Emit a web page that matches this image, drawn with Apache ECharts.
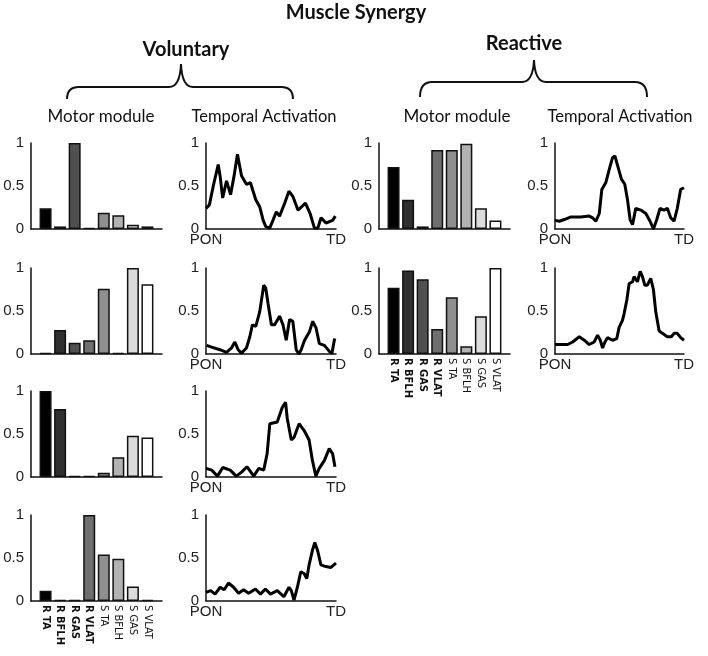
<!DOCTYPE html>
<html><head><meta charset="utf-8">
<script src="https://cdn.jsdelivr.net/npm/echarts/dist/echarts.min.js"></script>
<style>html,body{margin:0;padding:0;background:#fff}#c{width:708px;height:656px}</style>
</head><body><div id="c"></div>
<script>
// ---- data ----
const muscles = ['R TA','R BFLH','R GAS','R VLAT','S TA','S BFLH','S GAS','S VLAT'];
const volModule1 = [0.24,0.03,1.00,0.01,0.19,0.16,0.05,0.03];
const volModule2 = [0.01,0.28,0.13,0.16,0.76,0.01,1.00,0.81];
const volModule3 = [1.00,0.79,0.01,0.01,0.05,0.23,0.48,0.46];
const volModule4 = [0.12,0.01,0.01,1.00,0.54,0.49,0.17,0.01];
const reaModule1 = [0.72,0.34,0.03,0.92,0.92,0.99,0.24,0.10];
const reaModule2 = [0.77,0.97,0.87,0.29,0.66,0.09,0.44,1.00];

const volAct1 = [[0,0.24],[2.6,0.28],[5.6,0.5],[9.4,0.75],[11,0.6],[12.8,0.36],[15.8,0.56],[18.9,0.4],[21.4,0.6],[24.2,0.87],[27.3,0.62],[31.1,0.52],[34.2,0.54],[36,0.45],[38.3,0.34],[41.3,0.26],[44,0.1],[45.9,0.03],[49,0.01],[51.5,0.1],[54.1,0.2],[56.6,0.15],[60.5,0.3],[63.8,0.44],[66.8,0.38],[70.7,0.22],[73,0.25],[76.5,0.3],[80.1,0.18],[83.4,0.01],[86,0.01],[88.5,0.13],[92.3,0.07],[97.4,0.1],[99.5,0.15]];
const volAct2 = [[0.5,0.1],[4.3,0.08],[10.7,0.05],[15.8,0.02],[19.6,0.07],[22.2,0.14],[24.7,0.05],[27.3,0.01],[31.1,0.07],[33.7,0.2],[35.7,0.34],[38.3,0.32],[41.3,0.49],[44.4,0.8],[45.9,0.77],[47.7,0.59],[50.3,0.34],[52.8,0.34],[56.6,0.44],[59.2,0.34],[61.7,0.16],[64.3,0.4],[66.8,0.38],[69.4,0.05],[71.4,0],[73.2,0.05],[75.8,0.16],[79.6,0.26],[82.1,0.38],[84.7,0.3],[87.2,0.12],[91.1,0.1],[94.9,0.03],[96.9,0.01],[98.7,0.16],[99.2,0.18]];
const volAct3 = [[0,0.1],[4.4,0.08],[8.8,0.01],[12.9,0.11],[18.6,0.08],[23.3,0.01],[27.6,0.06],[31.5,0.12],[36.7,0.01],[40.6,0.1],[44.4,0.08],[47,0.27],[49.1,0.62],[54.8,0.64],[58.7,0.81],[61.2,0.87],[62.5,0.68],[65.6,0.43],[67.7,0.46],[71.6,0.62],[75.5,0.54],[79.3,0.43],[81.9,0.19],[84.5,0.01],[87.1,0.1],[91,0.19],[94.8,0.33],[97.4,0.27],[99.2,0.12]];
const volAct4 = [[0,0.1],[3.6,0.12],[7,0.08],[10.9,0.16],[14,0.13],[17.3,0.21],[21.2,0.16],[25.1,0.09],[28.9,0.13],[32.8,0.09],[38,0.14],[41.9,0.08],[45.7,0.14],[49.6,0.08],[54.8,0.12],[59.9,0.05],[63.8,0.16],[65.6,0.12],[67.7,0.01],[70.3,0.16],[72.9,0.34],[75.5,0.32],[77.5,0.26],[79.3,0.42],[81.9,0.59],[83.7,0.68],[85.8,0.59],[88.4,0.42],[92.2,0.4],[96.1,0.39],[100,0.44]];
const reaAct1 = [[0,0.1],[3.4,0.09],[7.2,0.11],[12.4,0.14],[20.1,0.14],[26.5,0.15],[29.1,0.13],[31.7,0.09],[34.3,0.18],[36.3,0.46],[39.4,0.54],[42,0.69],[44.6,0.83],[46.4,0.85],[48.5,0.74],[51.5,0.58],[54.1,0.52],[56.2,0.34],[58.2,0.11],[60.1,0.05],[62.6,0.24],[66.5,0.22],[70.4,0.18],[73.7,0.09],[76.3,0],[78.9,0.11],[81.4,0.24],[84.5,0.22],[87.1,0.24],[89.7,0.13],[92.3,0.09],[94.8,0.24],[97.4,0.46],[100,0.48]];
const reaAct2 = [[0,0.11],[4.6,0.11],[9.8,0.11],[13.7,0.14],[18.8,0.2],[22.7,0.16],[26.5,0.11],[30.4,0.14],[33,0.22],[35.1,0.16],[36.9,0.07],[38.7,0.14],[40.7,0.19],[44.6,0.16],[47.9,0.18],[49.7,0.31],[52.3,0.39],[53.6,0.47],[55.7,0.63],[57.5,0.82],[60.1,0.84],[61.3,0.9],[63.9,0.84],[66,0.96],[67.8,0.9],[69.6,0.8],[71.6,0.8],[74.2,0.88],[76.3,0.75],[78.1,0.49],[80.7,0.27],[83.2,0.24],[87.1,0.2],[90.2,0.2],[92.3,0.24],[94.8,0.24],[97.4,0.19],[100,0.16]];
const yTicks = ['0','0.5','1'];
const xEnds = ['PON','TD'];

// ---- style ----
const barFills = ['#000000','#2f2f2f','#505050','#6f6f6f','#8f8f8f','#b2b2b2','#dcdcdc','#ffffff'];
const labelFont = 'Liberation Sans, Arial, sans-serif';
const narrowFont = 'Liberation Sans Narrow, Arial Narrow, DejaVu Sans Condensed, Liberation Sans, sans-serif';
const headFont = 'Lato, Open Sans, sans-serif';

const chart = echarts.init(document.getElementById('c'), null, {renderer:'canvas'});
const grids = [], xAxes = [], yAxes = [], series = [];
let idx = 0;

function yAxisCfg(i){
  return {gridIndex:i, type:'value', min:0, max:1, interval:0.5,
    axisLine:{show:true, lineStyle:{color:'#111', width:1.5}},
    axisTick:{show:false}, splitLine:{show:false},
    axisLabel:{color:'#222', fontSize:15, fontFamily:labelFont, margin:7,
      formatter:v => v===0?yTicks[0]:(v===1?yTicks[2]:yTicks[1])}};
}

function addBars(left, zeroY, values, showNames){
  const i = idx++;
  grids.push({left:left, top:zeroY-86, width:131, height:86});
  xAxes.push({gridIndex:i, type:'category', boundaryGap:false,
    data:[''].concat(muscles).concat(['']),
    axisLine:{show:true, lineStyle:{color:'#111', width:1.5}},
    axisTick:{show:false}, splitLine:{show:false},
    axisLabel:{show:showNames, interval:0, rotate:-90, margin:4,
      fontSize:11, fontFamily:narrowFont, color:'#111',
      formatter:(v)=> v==='' ? '' : (v.charAt(0)==='R' ? '{b|'+v+'}' : '{n|'+v+'}'),
      rich:{b:{fontWeight:'bold', fontSize:11, fontFamily:narrowFont, color:'#111'},
            n:{fontWeight:'normal', fontSize:11, fontFamily:narrowFont, color:'#111'}}}});
  yAxes.push(yAxisCfg(i));
  series.push({type:'bar', xAxisIndex:i, yAxisIndex:i, barWidth:12, silent:true,
    data:['-'].concat(values.map((v,k)=>({value:v, itemStyle:{color:barFills[k], borderColor:'#111', borderWidth:1.5}}))).concat(['-'])});
}

function addLine(left, width, zeroY, pts){
  const i = idx++;
  grids.push({left:left, top:zeroY-86, width:width, height:86});
  xAxes.push({gridIndex:i, type:'value', min:0, max:100, interval:100,
    axisLine:{show:true, lineStyle:{color:'#111', width:1.5}},
    axisTick:{show:false}, splitLine:{show:false},
    axisLabel:{showMinLabel:true, showMaxLabel:true, margin:3, color:'#222', fontSize:15, fontFamily:labelFont,
      formatter:v => v===0?xEnds[0]:(v===100?xEnds[1]:'')}});
  yAxes.push(yAxisCfg(i));
  series.push({type:'line', xAxisIndex:i, yAxisIndex:i, data:pts, showSymbol:false, silent:true,
    lineStyle:{color:'#000', width:3}});
}

const volZero = [229, 354, 477, 601];
const volMods = [volModule1, volModule2, volModule3, volModule4];
const volActs = [volAct1, volAct2, volAct3, volAct4];
volMods.forEach((m,r)=>{ addBars(31, volZero[r], m, r===3); addLine(206, 130, volZero[r], volActs[r]); });
const reaZero = [229, 354];
[reaModule1, reaModule2].forEach((m,r)=>addBars(379, reaZero[r], m, r===1));
[reaAct1, reaAct2].forEach((a,r)=>addLine(555, 129, reaZero[r], a));

function brace(xl, xc, xr, yh, yc, ye){
  const st = {fill:'none', stroke:'#111', lineWidth:2};
  const r = 12;
  return [
    {type:'bezierCurve', shape:{x1:xl, y1:ye, x2:xl+r, y2:yh, cpx1:xl, cpy1:yh}, style:st},
    {type:'line', shape:{x1:xl+r, y1:yh, x2:xc-r, y2:yh}, style:st},
    {type:'bezierCurve', shape:{x1:xc-r, y1:yh, x2:xc, y2:yc, cpx1:xc-1, cpy1:yh}, style:st},
    {type:'bezierCurve', shape:{x1:xc, y1:yc, x2:xc+r, y2:yh, cpx1:xc+1, cpy1:yh}, style:st},
    {type:'line', shape:{x1:xc+r, y1:yh, x2:xr-r, y2:yh}, style:st},
    {type:'bezierCurve', shape:{x1:xr-r, y1:yh, x2:xr, y2:ye, cpx1:xr, cpy1:yh}, style:st}
  ];
}

const txt = (x,y,s,font)=>({type:'text', x:x, y:y, style:{text:s, font:font, fill:'#111', align:'center', verticalAlign:'middle'}});
const graphic = [
  txt(356, 13, 'Muscle Synergy', 'bold 20px '+headFont),
  txt(186, 50, 'Voluntary', 'bold 20px '+headFont),
  txt(524, 44, 'Reactive', 'bold 20px '+headFont),
  txt(101, 117, 'Motor module', '17px '+headFont),
  txt(264, 117, 'Temporal Activation', '16.5px '+headFont),
  txt(457, 117, 'Motor module', '17px '+headFont),
  txt(620, 117, 'Temporal Activation', '16.5px '+headFont)
].concat(brace(67, 181, 293, 87, 64, 99)).concat(brace(420, 534, 647, 82, 60, 97));

chart.setOption({animation:false, backgroundColor:'#fff', grid:grids, xAxis:xAxes, yAxis:yAxes, series:series, graphic:graphic});
</script></body></html>
